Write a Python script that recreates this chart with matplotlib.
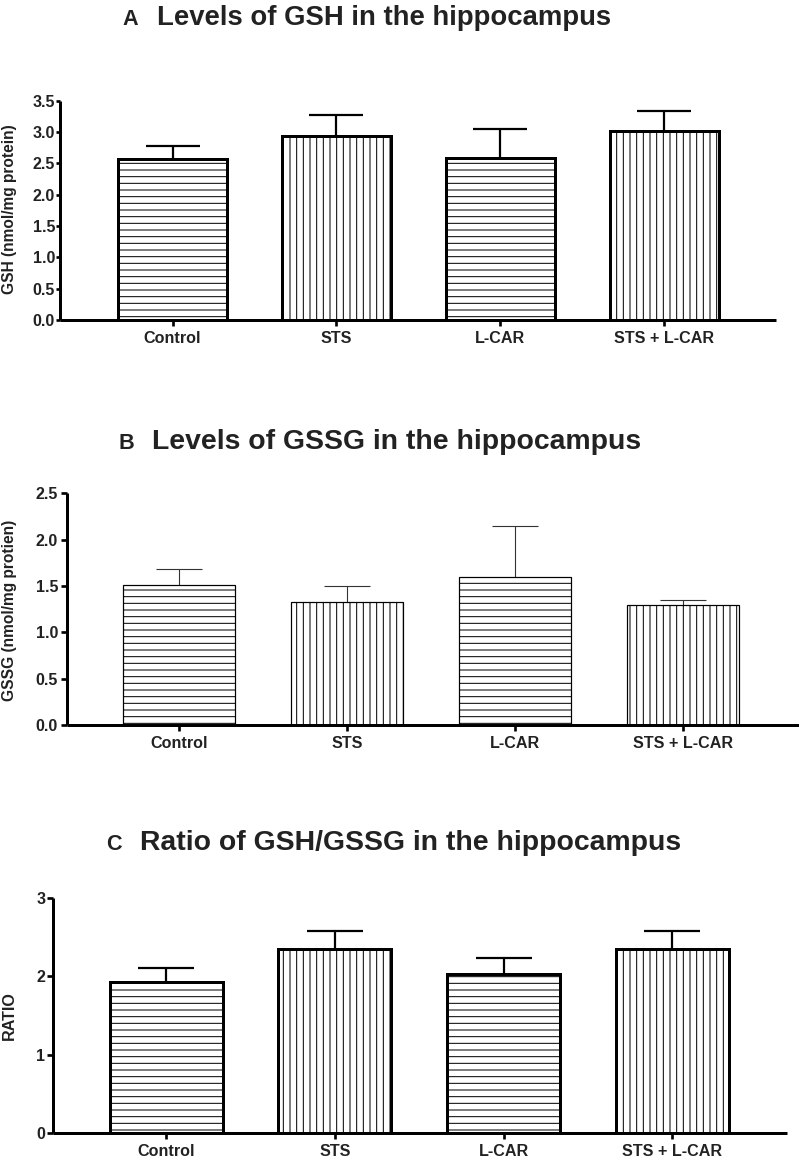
import matplotlib
matplotlib.use("Agg")
import matplotlib.pyplot as plt
import numpy as np

plt.rcParams['font.family'] = ['Liberation Sans', 'DejaVu Sans']
plt.rcParams['font.weight'] = 'bold'
plt.rcParams['hatch.linewidth'] = 0.9
plt.rcParams['hatch.color'] = '#222222'

categories = ["Control", "STS", "L-CAR", "STS + L-CAR"]

gsh_mean = [2.57, 2.94, 2.59, 3.02]
gsh_err = [0.21, 0.33, 0.46, 0.32]

gssg_mean = [1.51, 1.33, 1.60, 1.29]
gssg_err = [0.17, 0.17, 0.55, 0.06]

ratio_mean = [1.92, 2.35, 2.03, 2.35]
ratio_err = [0.18, 0.23, 0.20, 0.22]

hatches = ['--', '||', '--', '||']

DPI = 80
W, H = 799, 1165
fig = plt.figure(figsize=(W / DPI, H / DPI), dpi=DPI)


def px_axes(left, right, top, bottom):
    return fig.add_axes([left / W, 1 - bottom / H, (right - left) / W, (bottom - top) / H])


panels = [
    dict(box=(60, 776, 100.7, 320), means=gsh_mean, errs=gsh_err, ylim=(0, 3.5),
         yticks=np.arange(0, 3.51, 0.5), yfmt="{:.1f}", xlim=(-0.686, 3.68),
         edge=2.7, elw=2.0, cap=24, ylabel="GSH (nmol/mg protein)",
         ylab_y=209.5, ytl=(3.5, 1.0), title_letter="A", tsize=24.8,
         title="Levels of GSH in the hippocampus", title_xy=(122, 157, 25)),
    dict(box=(67, 799, 493.3, 725), means=gssg_mean, errs=gssg_err, ylim=(0, 2.5),
         yticks=np.arange(0, 2.51, 0.5), yfmt="{:.1f}", xlim=(-0.667, 3.69),
         edge=1.1, elw=1.0, cap=21, ylabel="GSSG (nmol/mg protien)",
         ylab_y=610, ytl=(5.0, 3.0), title_letter="B", tsize=25.5,
         title="Levels of GSSG in the hippocampus", title_xy=(119, 152, 449)),
    dict(box=(53, 787, 897.7, 1133), means=ratio_mean, errs=ratio_err, ylim=(0, 3),
         yticks=np.arange(0, 3.01, 1), yfmt="{:.0f}", xlim=(-0.67, 3.68),
         edge=2.7, elw=2.0, cap=25, ylabel="RATIO",
         ylab_y=1015.5, ytl=(5.0, 2.0), title_letter="C", tsize=25.5,
         title="Ratio of GSH/GSSG in the hippocampus", title_xy=(106, 140, 850)),
]

x = np.arange(len(categories))

for p in panels:
    ax = px_axes(*p['box'])
    bars = ax.bar(x, p['means'], width=0.67, color='white', edgecolor='black',
                  linewidth=p['edge'], zorder=2)
    for b, h in zip(bars, hatches):
        b.set_hatch(h)
    errcol = 'black' if p['elw'] > 1.5 else '#333333'
    eb = ax.errorbar(x, p['means'], yerr=[np.zeros(len(x)), p['errs']], fmt='none',
                     ecolor=errcol, elinewidth=p['elw'], capsize=p['cap'],
                     capthick=p['elw'], zorder=1)
    eb[1][0].set_visible(False)
    ax.set_xlim(*p['xlim'])
    ax.set_ylim(*p['ylim'])
    ax.set_yticks(p['yticks'])
    ax.set_yticklabels([p['yfmt'].format(v) for v in p['yticks']])
    ax.set_xticks(x)
    ax.set_xticklabels(categories)
    for s in ['top', 'right']:
        ax.spines[s].set_visible(False)
    for s in ['left', 'bottom']:
        ax.spines[s].set_linewidth(2.7)
        ax.spines[s].set_capstyle('butt')
    ax.tick_params(axis='y', length=p['ytl'][0], width=2.4, pad=p['ytl'][1],
                   labelsize=14.5, direction='out')
    ax.tick_params(axis='x', length=5.5, width=2.4, pad=4.5, labelsize=14.5,
                   direction='out')
    for lab in ax.get_xticklabels() + ax.get_yticklabels():
        lab.set_fontweight('bold')
        lab.set_color('#222222')
    ax.set_ylabel(p['ylabel'], fontsize=14 if p['title_letter'] != 'C' else 14.5,
                  fontweight='bold', color='#222222', va='center')
    ax.yaxis.set_label_coords(9.5 / W, 1 - p['ylab_y'] / H, transform=fig.transFigure)
    lx, tx, ty = p['title_xy']
    fig.text(lx / W, 1 - ty / H, p['title_letter'], fontsize=19.5, fontweight='bold',
             color='#222222', ha='left', va='baseline')
    fig.text(tx / W, 1 - ty / H, p['title'], fontsize=p['tsize'], fontweight='bold',
             color='#222222', ha='left', va='baseline')

fig.savefig("out.png", dpi=DPI)
